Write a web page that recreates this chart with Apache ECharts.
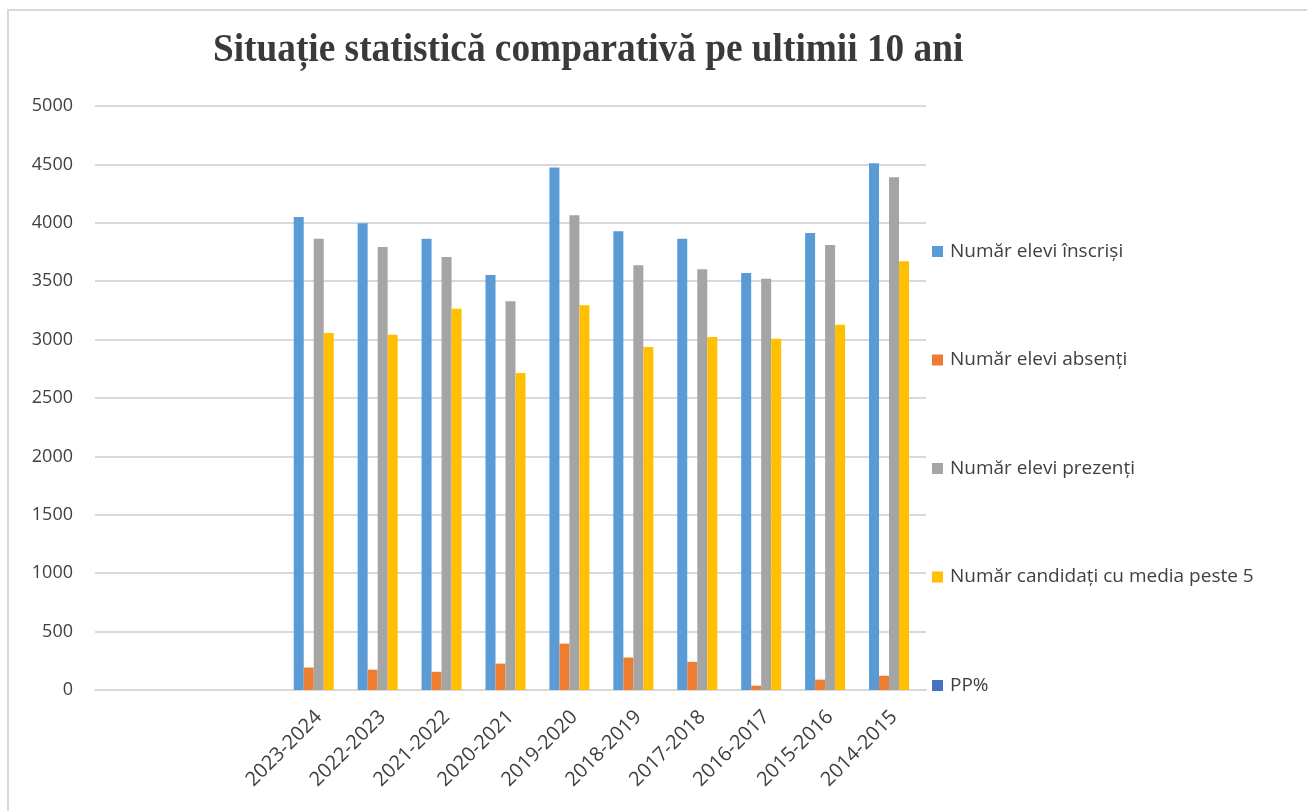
<!DOCTYPE html>
<html>
<head>
<meta charset="utf-8">
<script src="https://cdn.jsdelivr.net/npm/echarts@6/dist/echarts.min.js"></script>
<style>
    html, body { margin: 0; padding: 0; background: #fff; }
    #frame {
        position: absolute; left: 7px; top: 9px; width: 1300px; height: 802px;
        border-top: 2px solid #d9d9d9; border-left: 2px solid #d9d9d9;
        box-sizing: border-box;
    }
    #chart { position: absolute; left: 0; top: 0; width: 1307px; height: 811px; }
</style>
</head>
<body>
<div id="frame"></div>
<div id="chart"></div>
<script>
// categorii (primele trei sunt goale in original)
const years = ['', ' ', '  ', '2023-2024', '2022-2023', '2021-2022', '2020-2021', '2019-2020',
    '2018-2019', '2017-2018', '2016-2017', '2015-2016', '2014-2015']
const inscrisi = [null, null, null, 4049, 3997, 3863, 3554, 4473, 3927, 3863, 3570, 3912, 4510]
const absenti = [null, null, null, 192, 174, 156, 226, 397, 278, 241, 37, 89, 122]
const prezenti = [null, null, null, 3863, 3793, 3707, 3328, 4064, 3637, 3603, 3521, 3811, 4391]
const peste5 = [null, null, null, 3057, 3041, 3264, 2715, 3295, 2937, 3023, 3008, 3127, 3670]
const pp = [null, null, null, 0, 0, 0, 0, 0, 0, 0, 0, 0, 0]

const names = ['Număr elevi înscriși', 'Număr elevi absenți', 'Număr elevi prezenți',
    'Număr candidați cu media peste 5', 'PP%']
const colors = ['#5b9bd5', '#ed7d31', '#a5a5a5', '#ffc000', '#4472c4']
const values = [inscrisi, absenti, prezenti, peste5, pp]

const chart = echarts.init(document.getElementById('chart'))
chart.setOption({
    animation: false,
    color: colors,
    // titlul e mai ingust si mai inalt ca in Word, deci text scalat
    graphic: [{
        type: 'text',
        x: 213,
        y: 50,
        scaleX: 0.91,
        style: {
            text: 'Situație statistică comparativă pe ultimii 10 ani',
            font: 'bold 41px "Liberation Serif"',
            fill: '#3a3a3a',
            verticalAlign: 'middle'
        }
    }],
    legend: {
        orient: 'vertical',
        left: 927,
        top: 237,
        itemWidth: 11,
        itemHeight: 11,
        itemGap: 89.5,
        icon: 'rect',
        data: names,
        textStyle: { fontFamily: 'Open Sans', fontSize: 19, color: '#404040', padding: [0, 0, 0, 2] }
    },
    grid: { left: 95, right: 381, top: 106, bottom: 121 },
    xAxis: {
        type: 'category',
        data: years,
        axisLine: { lineStyle: { color: '#d9d9d9', width: 2 } },
        axisTick: { show: false },
        axisLabel: {
            rotate: 45,
            interval: 0,
            margin: 24,
            fontFamily: 'Open Sans',
            fontSize: 20,
            color: '#404040'
        }
    },
    yAxis: {
        type: 'value',
        min: 0,
        max: 5000,
        interval: 500,
        splitLine: { lineStyle: { color: '#d9d9d9', width: 2 } },
        axisLabel: {
            margin: 22,
            fontFamily: 'Open Sans',
            fontSize: 18,
            color: '#404040',
            formatter: v => String(v)
        }
    },
    series: names.map((n, i) => ({
        name: n,
        type: 'bar',
        data: values[i],
        barWidth: 10,
        barGap: '0%'
    }))
})
</script>
</body>
</html>
